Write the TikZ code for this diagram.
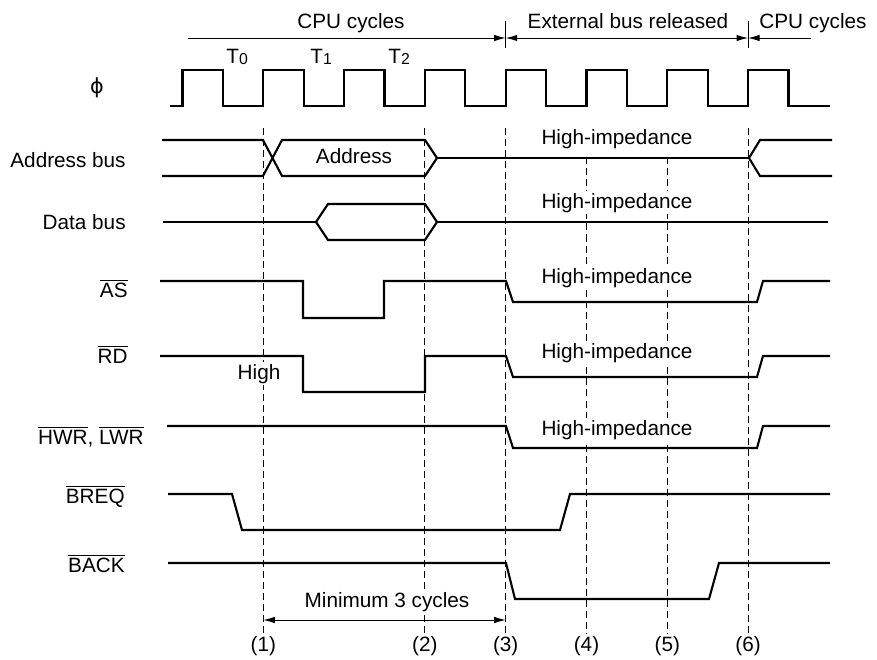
\documentclass[tikz,border=0pt]{standalone}
\usepackage{fontspec}
\setmainfont{Liberation Sans}
\newfontfamily\greekfont{DejaVu Sans}
\usetikzlibrary{arrows.meta}

\begin{document}
\begin{tikzpicture}[x=0.02cm, y=-0.02cm,
    every node/.style={font=\fontsize{11.8}{14}\selectfont, inner sep=0pt},
    sig/.style={line width=1.2pt, line join=miter},
    guide/.style={line width=0.6pt, dash pattern=on 4pt off 2.3pt},
    dim/.style={line width=0.55pt, -{Latex[length=2.3mm, width=1.3mm]}},
    dimboth/.style={line width=0.55pt, {Latex[length=2.3mm, width=1.3mm]}-{Latex[length=2.3mm, width=1.3mm]}},
    rowlbl/.style={anchor=base east},
    hiz/.style={anchor=base, fill=white, inner sep=1pt}
  ]
    \useasboundingbox (0,0) rectangle (877,660);
    % Marker columns (clock rising edges)
    \foreach \n/\k in {1/1, 2/3, 3/4, 4/5, 5/6, 6/7}
      \coordinate (m\n) at ({182.5+80.8*\k}, 0);
    % Dashed guide lines
    \foreach \n in {1,2,3,6}
      \draw[guide] (m\n |- 0,128) -- (m\n |- 0,633);
    \foreach \n in {4,5}
      \draw[guide] (m\n |- 0,157) -- (m\n |- 0,633);
    % Cycle arrows on top
    \draw[line width=0.55pt] (m3 |- 0,21) -- (m3 |- 0,48);
    \draw[line width=0.55pt] (m6 |- 0,21) -- (m6 |- 0,48);
    \coordinate (cpuL) at (188,38);
    \coordinate (cpuR) at (811,38);
    \draw[dim] (cpuL) -- (m3 |- cpuL);
    \draw[dimboth] (m3 |- cpuL) -- (m6 |- cpuL);
    \draw[dim] (cpuR) -- (m6 |- cpuR);
    \node[anchor=base] (cpu1) at (351,28) {CPU cycles};
    \node[anchor=base] (ext) at (628,28) {External bus released};
    \node[anchor=base] (cpu2) at (813,28) {CPU cycles};
    % Clock
    \node (phi) at (97,88) {\greekfont ϕ};
    \node[anchor=base west] (tz) at (226,63) {T\raisebox{-1pt}{\fontsize{9}{10}\selectfont 0}};
    \node[anchor=base west] (to) at (310,63) {T\raisebox{-1pt}{\fontsize{9}{10}\selectfont 1}};
    \node[anchor=base west] (tt) at (388,63) {T\raisebox{-1pt}{\fontsize{9}{10}\selectfont 2}};
    \draw[sig] (170,106) foreach \k in {0,...,7} {
        -- ({182.5+80.8*\k},106) -- ++(0,-36) -- ++(40.4,0) -- ++(0,36)} -- (830,106);
    % Row labels
    \node[rowlbl] (abus) at (126,167) {Address bus};
    \node[rowlbl] (dbus) at (126,229) {Data bus};
    \node[rowlbl] (as) at (128,297) {$\overline{\mbox{AS}}$};
    \node[rowlbl] (rd) at (128,363) {$\overline{\mbox{RD}}$};
    \node[rowlbl] (wr) at (144,444) {$\overline{\mbox{HWR}}$, $\overline{\mbox{LWR}}$};
    \node[rowlbl] (breq) at (125,503) {$\overline{\mbox{BREQ}}$};
    \node[rowlbl] (back) at (125,572) {$\overline{\mbox{BACK}}$};
    % Texts on the waveforms
    \node[hiz] (hz1) at (617,144) {High-impedance};
    \node[hiz] (hz2) at (617,208) {High-impedance};
    \node[hiz] (hz3) at (617,283) {High-impedance};
    \node[hiz] (hz4) at (617,358) {High-impedance};
    \node[hiz] (hz5) at (617,435) {High-impedance};
    \node[anchor=base] (addr) at (354,163) {Address};
    \node[hiz] (high) at (259,379) {High};
    % Address bus
    \draw[sig] (162,140) -- (263,140) -- (282,176) -- (425,176) -- (437,158)
      -- (425,140) -- (282,140) -- (263,176) -- (162,176);
    \draw[sig] (437,158) -- (749,158);
    \draw[sig] (832,140) -- (760,140) -- (749,158) -- (760,176) -- (832,176);
    % Data bus
    \draw[sig] (163,222) -- (316,222);
    \draw[sig] (316,222) -- (328,204) -- (425,204) -- (437,222)
      -- (425,240) -- (328,240) -- cycle;
    \draw[sig] (437,222) -- (828,222);
    % AS
    \draw[sig] (160,281) -- (303,281) -- (303,318) -- (384,318) -- (384,281)
      -- (506,281) -- (513,302) -- (757,302) -- (763,281) -- (830,281);
    % RD
    \draw[sig] (160,356) -- (303,356) -- (303,392) -- (425,392) -- (425,356)
      -- (506,356) -- (513,377) -- (757,377) -- (763,356) -- (830,356);
    % HWR, LWR
    \draw[sig] (167,426) -- (506,426) -- (513,448) -- (757,448) -- (763,426) -- (830,426);
    % BREQ
    \draw[sig] (168,494) -- (232,494) -- (242,530) -- (560,530) -- (570,494) -- (830,494);
    % BACK
    \draw[sig] (168,563) -- (506,563) -- (515,599) -- (709,599) -- (719,563) -- (830,563);
    % Minimum cycles
    \node[hiz] (mincyc) at (387,607) {Minimum 3 cycles};
    \draw[dimboth] (m1 |- 0,620) -- (m3 |- 0,620);
    % Point labels
    \foreach \n in {1,...,6}
      \node[anchor=base] (p\n) at (m\n |- 0,651) {(\n)};
\end{tikzpicture}
\end{document}
